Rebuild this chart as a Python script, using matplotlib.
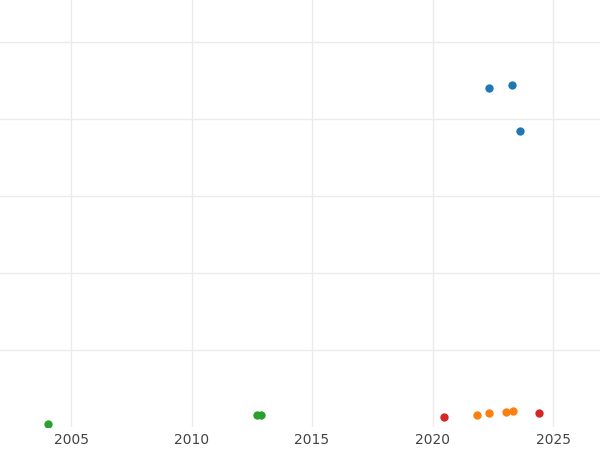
import matplotlib
matplotlib.use("Agg")
import matplotlib.pyplot as plt

blue_x = [2022.34, 2023.3, 2023.63]
blue_y = [4.40, 4.44, 3.84]
green_x = [2004.05, 2012.72, 2012.88]
green_y = [0.04, 0.16, 0.16]
orange_x = [2021.85, 2022.34, 2023.05, 2023.34]
orange_y = [0.16, 0.18, 0.19, 0.21]
red_x = [2020.46, 2024.42]
red_y = [0.13, 0.18]
xticks = [2005, 2010, 2015, 2020, 2025]

fig = plt.figure(figsize=(6, 4.5), dpi=100)
ax = fig.add_axes([0, 0.051, 1, 0.949])
for xs, ys, c in [(blue_x, blue_y, "#1f77b4"), (green_x, green_y, "#2ca02c"),
                  (orange_x, orange_y, "#ff7f0e"), (red_x, red_y, "#d62728")]:
    ax.scatter(xs, ys, s=36, color=c, zorder=3, linewidths=0)
ax.set_xlim(2002.05, 2026.95)
ax.set_ylim(0, 5.545)
ax.set_xticks(xticks)
ax.set_yticks([1, 2, 3, 4, 5])
ax.tick_params(axis="y", left=False, labelleft=False)
ax.tick_params(axis="x", length=0, labelsize=10, colors="#444444", pad=4)
ax.grid(True, color="#ebebeb", linewidth=1)
for s in ax.spines.values():
    s.set_visible(False)
fig.savefig("out.png", dpi=100)
